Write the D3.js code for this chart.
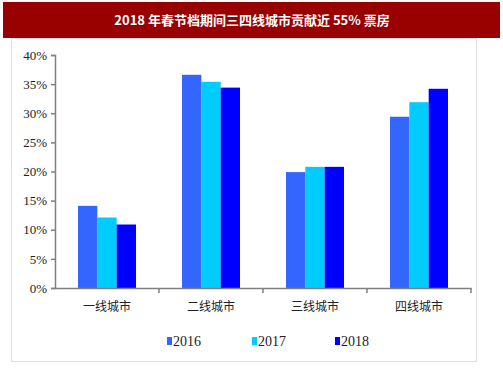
<!DOCTYPE html>
<html>
<head>
<meta charset="utf-8">
<script src="https://cdnjs.cloudflare.com/ajax/libs/d3/7.8.5/d3.min.js"></script>
<style>
  body { margin: 0; background: #fff; }
  svg { display: block; }
</style>
</head>
<body>
<svg id="chart" width="503" height="378"></svg>
<script>
var title = "2018 年春节档期间三四线城市贡献近 55% 票房";
var cities = ["一线城市", "二线城市", "三线城市", "四线城市"];
var years = ["2016", "2017", "2018"];
var colors = ["#3366ff", "#00ccff", "#0000ff"];
var v2016 = [14.1, 36.6, 19.9, 29.4];
var v2017 = [12.1, 35.4, 20.8, 31.9];
var v2018 = [10.9, 34.4, 20.8, 34.2];
var yTicks = [0, 5, 10, 15, 20, 25, 30, 35, 40];

var series = [v2016, v2017, v2018];
var svg = d3.select("#chart");

// title bar
svg.append("rect").attr("x", 3).attr("y", 2).attr("width", 497).attr("height", 36).attr("fill", "#990000");
svg.append("text").attr("x", 252).attr("y", 25).attr("text-anchor", "middle")
  .attr("fill", "#fff").attr("font-family", "'Noto Sans CJK SC', sans-serif")
  .attr("font-weight", "bold").attr("font-size", 13).text(title);

// panel border
svg.append("rect").attr("x", 11.5).attr("y", 38.5).attr("width", 465).attr("height", 323)
  .attr("fill", "none").attr("stroke", "#e0e0e0");

var plotL = 55, plotR = 471, plotT = 55, plotB = 288;
var x0 = d3.scaleBand().domain(cities).range([plotL, plotR]);
var x1 = d3.scaleBand().domain(years).range([0, 58]);
var y = d3.scaleLinear().domain([0, 40]).range([plotB, plotT]);

// bars
var groups = svg.selectAll(".grp").data(cities).enter().append("g")
  .attr("class", "grp")
  .attr("transform", function(d) { return "translate(" + (x0(d) + x0.bandwidth() / 2 - 29) + ",0)"; });
groups.selectAll("rect").data(function(d, i) {
    return years.map(function(yr, j) { return { yr: yr, v: series[j][i], c: colors[j] }; });
  }).enter().append("rect")
  .attr("x", function(d) { return x1(d.yr); })
  .attr("y", function(d) { return y(d.v); })
  .attr("width", x1.bandwidth())
  .attr("height", function(d) { return plotB - y(d.v); })
  .attr("fill", function(d) { return d.c; });

// y axis
var yAxis = svg.append("g").attr("transform", "translate(" + plotL + ",0)")
  .call(d3.axisLeft(y).tickValues(yTicks).tickSize(4).tickFormat(function(d) { return d + "%"; }));
yAxis.select(".domain").attr("stroke", "#808080").attr("stroke-width", 1.5);
yAxis.selectAll(".tick line").attr("stroke", "#808080").attr("stroke-width", 1.5);
yAxis.selectAll("text").attr("font-family", "'Liberation Serif', serif").attr("font-size", 13)
  .attr("fill", "#222").attr("dx", -1);

// x axis
var xAxis = svg.append("g").attr("transform", "translate(0," + plotB + ")")
  .call(d3.axisBottom(x0).tickSize(0).tickPadding(14));
xAxis.select(".domain").attr("stroke", "#808080").attr("stroke-width", 1.5);
xAxis.selectAll("text").attr("font-family", "'Noto Sans CJK SC', sans-serif").attr("font-size", 12)
  .attr("fill", "#222");
var bounds = cities.slice(1).map(function(c) { return x0(c); }).concat([plotR]);
xAxis.selectAll(".sep").data(bounds).enter().append("line")
  .attr("x1", function(d) { return d; }).attr("x2", function(d) { return d; })
  .attr("y1", 0).attr("y2", 5).attr("stroke", "#808080").attr("stroke-width", 1.5);

// legend
var legX = [167, 252, 335];
var leg = svg.selectAll(".leg").data(years).enter().append("g")
  .attr("transform", function(d, i) { return "translate(" + legX[i] + ",337)"; });
leg.append("rect").attr("width", 5).attr("height", 8).attr("fill", function(d, i) { return colors[i]; });
leg.append("text").attr("x", 6).attr("y", 9).attr("font-family", "'Liberation Serif', serif")
  .attr("font-size", 14).attr("fill", "#222").text(function(d) { return d; });
</script>
</body>
</html>
